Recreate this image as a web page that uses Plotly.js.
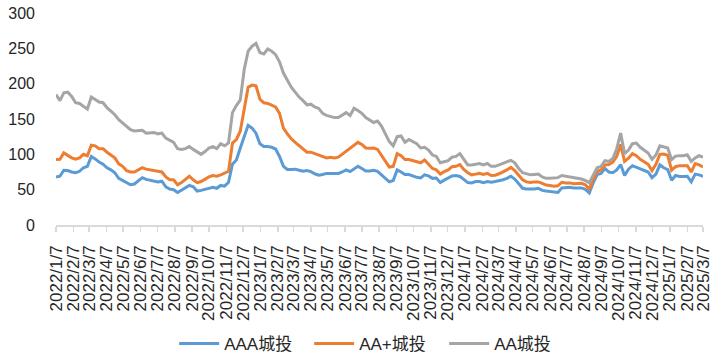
<!DOCTYPE html>
<html>
<head>
<meta charset="utf-8">
<script src="https://cdn.plot.ly/plotly-3.0.1.min.js"></script>
<style>html,body{margin:0;padding:0;background:#fff;}#chart{width:719px;height:355px;}</style>
</head>
<body>
<div id="chart"></div>
<script>
// Weekly observations (every Friday) starting 2022/1/7
const startDate = [2022, 0, 7];
const seriesNames = ["AAA城投", "AA+城投", "AA城投"];

const aaa = [68,69,77.5,77,75,74,76,81,83,97,
93.5,89,86,81,78,74,66,63,59,57,
58,63,67,64.5,63,62,61,62,54,51,
50,46,49,52.5,56,54,48,49,50.5,53,
53.5,52,56,55,60.5,86,92,109,126,141,
137,130,115,111,111,110,107.5,97,83,78.5,
78.5,79,77.5,76,77,75.5,72.5,70.5,71.5,73,
73,73,73,75,78,75.5,79,83,
80,76.5,76.5,77.5,76,71,66,61,63,78,
75,71.4,71.4,69,67.5,66.7,71,69.5,66,66.5,
60,63.5,66.5,69.5,70,68.7,64.5,60,59.6,61.5,
61.5,60,61.5,60.5,61.5,62.5,64,66,69,65,
59,52,51,50.5,51,52,49,48,47.2,46.5,
46,52.5,52.6,53.5,52.5,53,52.5,50.5,45.5,59.6,
71.4,73,80,75,74,78,85.5,70,79,84,
82,79.5,78,75,67,72,85,81,78.5,63.3,
70,68.7,68.7,69,61,72,71,69];

const aaPlus = [92.6,93,102,98,95,93,95,100,98,113,
112,108,108,103,99,95,86.5,83,77,75,
75,78,81,79,78,76,75,75,68,64,
64,57,60,64,69,64,60,61.5,65,68,
70,69,71,73,76,116,121,133,163,195,
198,197,178,173,172,170,167,158,137,129,
122,117,112,108,103,103,101,99,98,95,
96,95,96,100,104,108,113,117,
114,109,108.5,109,107,99,90,82,83,101,
98,92.6,92.6,91,90.5,88,92,86,80,78,
72,75.5,78,82.5,83,85.5,78.5,74,71,72,
73,71.5,73,70,70.5,72.5,75,78,81.5,77,
70.5,64,61,60,61,61,59,56.5,56,55,
55.5,60.5,59.6,59.6,58.5,59,59,57,51,64,
76,78,85,85.5,89,97,114,90,94.5,101,
98,93,90,86,77,86,100,100.5,98.5,77.5,
82.5,84,84,84,75,87,85,82];

const aa = [184.5,176,187,188,182,173,172,168,164,181,
178,174,173,166,161,156,149,144,140,135,
133,133,134,130,131,131,129,130,123,120,
117,108,107,108,111,107,104,100,104,109,
111,108,115,112,116,159,169,177,220,246,
253,257,244,242,249,246,241,231,215,205,
195,188,181,176,170,171,167,165,158,155,
153,152,152,155,159,155,165,162,
158,152,148,145,147,140,129,118,112,125,
126,117,121,118,115,109,110,106,99,97,
88,89.5,91,96,97,101,92,85,85,86.5,
87,85,87,83,83,85,87,88.5,91.5,88,
80,74,72,71,71.5,72,68,66,66,66,
67,70,69,68.7,67,66,65,63,59.6,70.5,
81,83,91,90,94,108,130,101,106,115,
116,110,106,102,93,99,112,111,109,92.6,
97.5,98,98,99.5,90,95,98,96];

const tickLabels = ["2022/1/7","2022/2/7","2022/3/7","2022/4/7","2022/5/7","2022/6/7","2022/7/7","2022/8/7","2022/9/7","2022/10/7","2022/11/7","2022/12/7",
"2023/1/7","2023/2/7","2023/3/7","2023/4/7","2023/5/7","2023/6/7","2023/7/7","2023/8/7","2023/9/7","2023/10/7","2023/11/7","2023/12/7",
"2024/1/7","2024/2/7","2024/3/7","2024/4/7","2024/5/7","2024/6/7","2024/7/7","2024/8/7","2024/9/7","2024/10/7","2024/11/7","2024/12/7",
"2025/1/7","2025/2/7","2025/3/7"];

function iso(d){
  const p = n => String(n).padStart(2,'0');
  return d.getFullYear()+'-'+p(d.getMonth()+1)+'-'+p(d.getDate());
}
const dates = aaa.map((_, i) => iso(new Date(startDate[0], startDate[1], startDate[2] + 7*i)));
const tickVals = tickLabels.map(s => { const [y,m,d] = s.split('/').map(Number); return iso(new Date(y, m-1, d)); });

const colors = ["#5B9BD5", "#ED7D31", "#A5A5A5"];
const allSeries = [aaa, aaPlus, aa];
const traces = allSeries.map((vals, k) => ({
  x: dates, y: vals, type: 'scatter', mode: 'lines', name: seriesNames[k],
  line: {color: colors[k], width: 3}
}));

const layout = {
  width: 719, height: 355,
  margin: {l: 56, r: 16, t: 13, b: 130},
  paper_bgcolor: '#fff', plot_bgcolor: '#fff',
  font: {family: '"Liberation Sans", Arial, "Noto Sans CJK SC", sans-serif', color: '#262626', size: 16},
  showlegend: true,
  legend: {orientation: 'h', x: 0.4956, xanchor: 'center', xref: 'paper',
    yref: 'container', y: 0.031, yanchor: 'middle',
    font: {size: 17}, itemwidth: 40, traceorder: 'normal',
    entrywidth: 80, entrywidthmode: 'pixels'},
  xaxis: {
    type: 'date', range: [tickVals[0], tickVals[tickVals.length-1]],
    tickmode: 'array', tickvals: tickVals, ticktext: tickLabels, tickangle: -90,
    tickfont: {size: 17}, automargin: false, ticklabelstandoff: 7,
    showline: true, linecolor: '#D9D9D9', linewidth: 1.5,
    ticks: 'outside', ticklen: 5, tickcolor: '#D9D9D9', tickwidth: 1.5,
    showgrid: false, zeroline: false, fixedrange: true
  },
  yaxis: {
    range: [0, 300], tickmode: 'array', tickvals: [0,50,100,150,200,250,300],
    showgrid: false, zeroline: false, showline: false, ticks: '', automargin: false,
    ticklabelstandoff: 20, tickfont: {size: 16}, fixedrange: true
  }
};
Plotly.newPlot('chart', traces, layout, {displayModeBar: false, staticPlot: true});
</script>
</body>
</html>
